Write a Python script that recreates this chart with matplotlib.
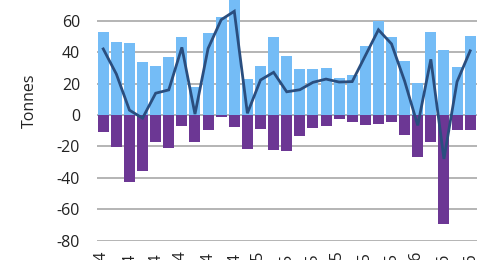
import matplotlib
matplotlib.use("Agg")
import matplotlib.pyplot as plt
import numpy as np

months = ["Jan", "Feb", "Mar", "Apr", "May", "Jun", "Jul", "Aug", "Sep", "Oct", "Nov", "Dec"]
categories = [f"{months[i % 12]}-{14 + i // 12}" for i in range(29)]

inflow = [52.7, 46.7, 46.0, 33.5, 31.4, 37.1, 49.9, 17.6, 52.0, 62.2,
          73.5, 23.0, 31.4, 49.5, 37.8, 29.3, 29.3, 29.7, 23.8, 25.5,
          44.2, 60.0, 49.5, 34.6, 20.2, 52.7, 41.4, 30.8, 50.5]
outflow = [-10.6, -20.6, -42.9, -35.5, -17.5, -21.1, -6.8, -17.0, -9.6, -1.5,
           -7.4, -21.9, -9.1, -22.3, -23.0, -13.2, -8.5, -6.8, -2.8, -4.2,
           -6.4, -5.7, -4.2, -13.0, -26.8, -17.2, -69.4, -9.6, -9.6]
net = [a + b for a, b in zip(inflow, outflow)]

yticks = [-80, -60, -40, -20, 0, 20, 40, 60]

plt.rcParams['font.family'] = ['Open Sans', 'DejaVu Sans']

fig = plt.figure(figsize=(5, 2.6), dpi=100)
ax = fig.add_axes([96.7 / 500, 0.0746, 380 / 500, 0.966])

x = np.arange(len(categories))
ax.bar(x, inflow, width=0.84, color="#74BCF6", zorder=2)
ax.bar(x, outflow, width=0.84, color="#6C3794", zorder=2)
ax.plot(x, net, color="#2A4E7F", linewidth=2.0, zorder=3, solid_joinstyle='miter')

ax.set_xlim(-0.5, len(categories) - 0.5)
ax.set_ylim(-80, 80)
ax.set_yticks(yticks)
ax.set_yticklabels([str(v) for v in yticks], fontsize=11.5, color="#222222")
ax.grid(axis='y', color="#A8A8A8", linewidth=1.2, zorder=0)
ax.set_axisbelow(True)

ax.set_xticks(x[::2])
ax.set_xticklabels(categories[::2], rotation=90, fontsize=11.5, color="#222222")
ax.tick_params(axis='both', length=0)
ax.tick_params(axis='y', pad=12)
ax.tick_params(axis='x', pad=8.5)

for s in ax.spines.values():
    s.set_visible(False)

ax.set_ylabel("Tonnes", fontsize=11.5, color="#222222")
ax.yaxis.set_label_coords(-0.154, 0.558)

fig.savefig("out.png", dpi=100)
